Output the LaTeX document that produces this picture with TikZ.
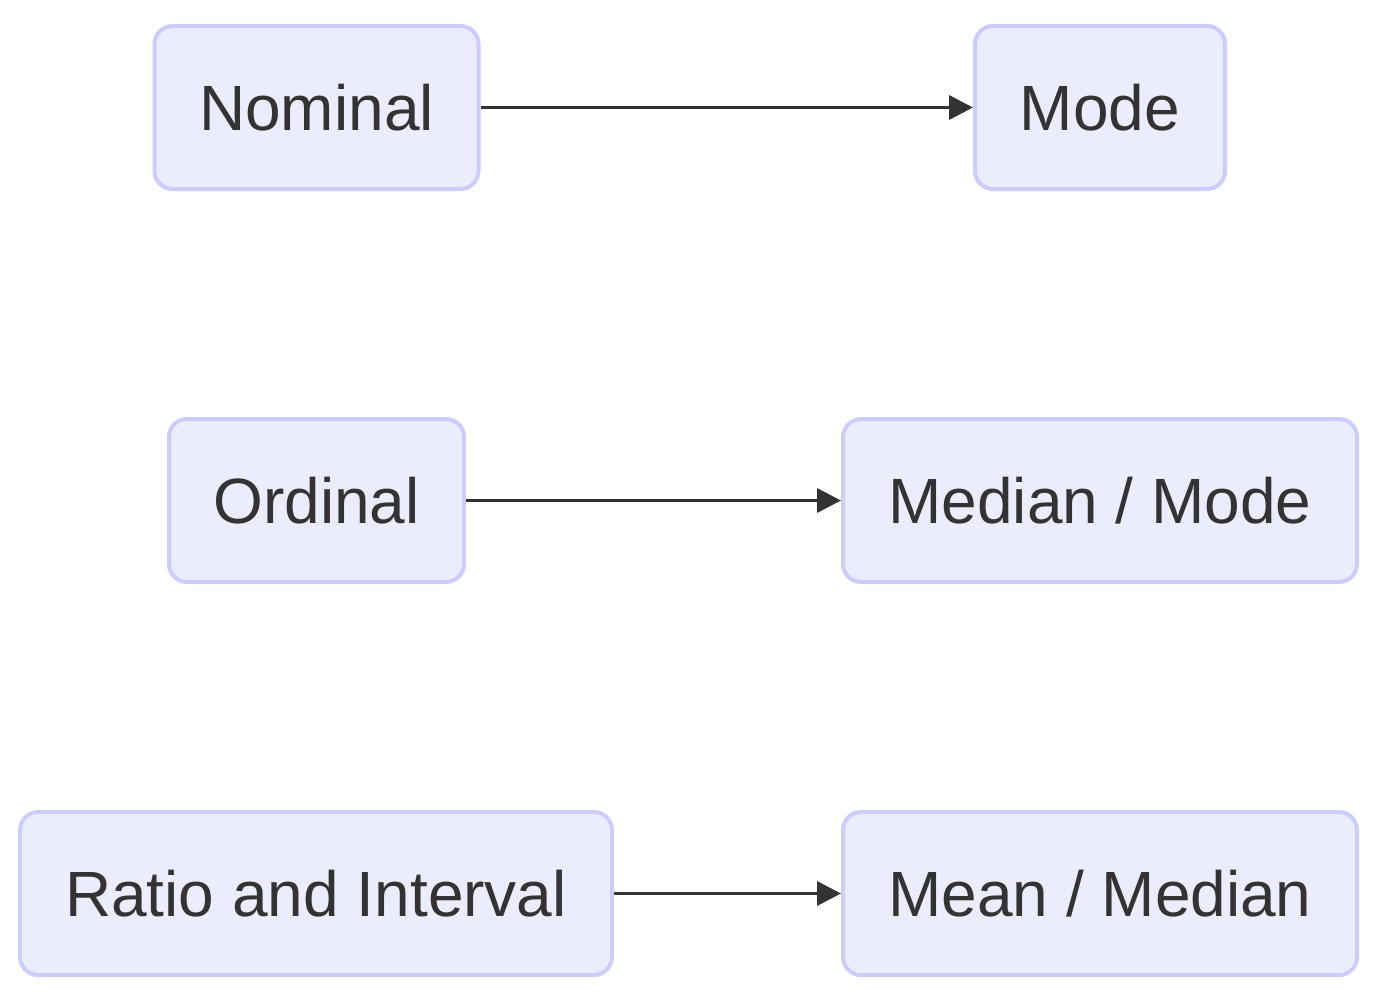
\documentclass[tikz,border=0pt]{standalone}
\usepackage{fontspec}
\setmainfont{Liberation Sans}
\usetikzlibrary{arrows.meta}

\definecolor{boxfill}{HTML}{ECECFF}
\definecolor{boxline}{HTML}{CCCCFF}
\definecolor{ink}{HTML}{333333}

\tikzset{
  box/.style={draw=boxline, fill=boxfill, line width=2pt, rounded corners=9pt,
    minimum height=81.5pt, text=ink, font=\fontsize{32}{38}\selectfont},
  link/.style={draw=ink, line width=1.75pt, -{Triangle[length=12pt,width=12pt]}}
}

\begin{document}
\begin{tikzpicture}[x=0.5pt,y=-0.5pt]

    % 1. Page size
    \useasboundingbox (0,0) rectangle (1374,1006);

    % 2. Scale types (left column)
    \node[box, minimum width=162pt]   (nominal) at (316.5,107.5) {Nominal};
    \node[box, minimum width=147.5pt] (ordinal) at (316.5,500.5) {Ordinal};
    \node[box, minimum width=296pt]   (ratio)   at (316,893.5)   {Ratio and Interval};

    % 3. Averages (right column)
    \node[box, minimum width=125pt] (mode)       at (1100,107.5) {Mode};
    \node[box, minimum width=257pt] (medianmode) at (1100,500.5) {Median / Mode};
    \node[box, minimum width=257pt] (meanmedian) at (1100,893.5) {Mean / Median};

    % 4. Arrows
    \draw[link] (nominal) -- (mode);
    \draw[link] (ordinal) -- (medianmode);
    \draw[link] (ratio) -- (meanmedian);

\end{tikzpicture}
\end{document}
